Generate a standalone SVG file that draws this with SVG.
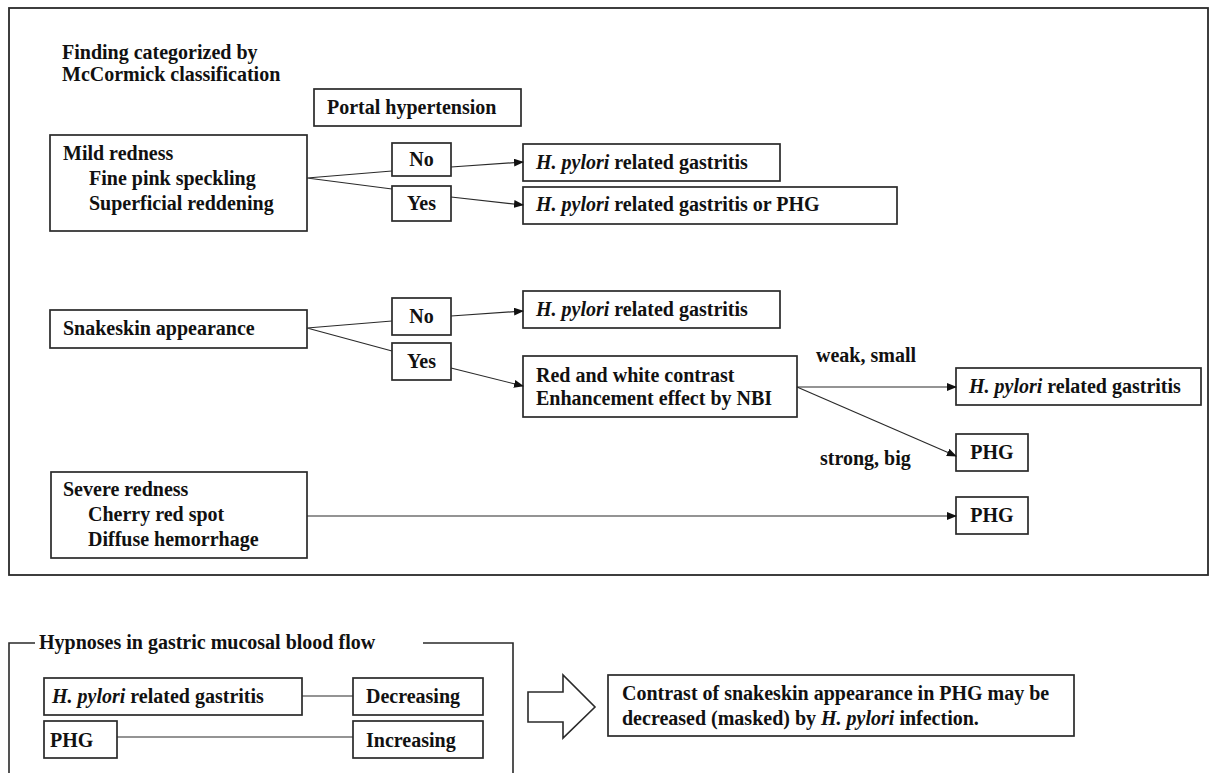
<svg xmlns="http://www.w3.org/2000/svg" width="1211" height="773" viewBox="0 0 1211 773">
<style>
text{font-family:"Liberation Serif","Times New Roman",serif;font-weight:bold;font-size:20px;fill:#111}
.b{fill:#fff;stroke:#2a2a2a;stroke-width:1.7}
.c{stroke:#2a2a2a;stroke-width:1.2;fill:none}
.i{font-style:italic}
</style>
<defs>
<marker id="ah" markerWidth="10" markerHeight="8" refX="9" refY="4" orient="auto" markerUnits="userSpaceOnUse">
<path d="M0,0 L10,4 L0,8 z" fill="#111"/>
</marker>
</defs>
<rect width="1211" height="773" fill="#fff"/>
<rect x="9" y="8" width="1199" height="567" fill="none" stroke="#2a2a2a" stroke-width="1.8"/>
<g id="title"><text x="62" y="59">Finding categorized by</text><text x="62" y="81">McCormick classification</text></g>
<g id="portal"><rect class="b" x="314" y="89" width="207" height="37"/><text x="327" y="114">Portal hypertension</text></g>
<g id="mild"><rect class="b" x="50" y="135" width="257" height="96"/><text x="63" y="160">Mild redness</text><text x="89" y="185">Fine pink speckling</text><text x="89" y="210">Superficial reddening</text></g>
<g id="no1"><rect class="b" x="392" y="143" width="59" height="33"/><text x="421.5" y="166" text-anchor="middle">No</text></g>
<g id="yes1"><rect class="b" x="392" y="186" width="59" height="35"/><text x="421.5" y="210" text-anchor="middle">Yes</text></g>
<g id="r1"><rect class="b" x="523" y="144" width="257" height="37"/><text x="536" y="169"><tspan class="i">H. pylori</tspan> related gastritis</text></g>
<g id="r2"><rect class="b" x="523" y="187" width="374" height="37"/><text x="536" y="211"><tspan class="i">H. pylori</tspan> related gastritis or PHG</text></g>
<g id="snake"><rect class="b" x="50" y="310" width="257" height="38"/><text x="63" y="335">Snakeskin appearance</text></g>
<g id="no2"><rect class="b" x="392" y="298" width="59" height="37"/><text x="421.5" y="323" text-anchor="middle">No</text></g>
<g id="yes2"><rect class="b" x="392" y="343" width="59" height="37"/><text x="421.5" y="368" text-anchor="middle">Yes</text></g>
<g id="r3"><rect class="b" x="523" y="291" width="257" height="37"/><text x="536" y="316"><tspan class="i">H. pylori</tspan> related gastritis</text></g>
<g id="red"><rect class="b" x="523" y="356" width="274" height="61"/><text x="536" y="382">Red and white contrast</text><text x="536" y="405">Enhancement effect by NBI</text></g>
<g id="weak"><text x="816" y="362">weak, small</text></g>
<g id="strong"><text x="820" y="465">strong, big</text></g>
<g id="r4"><rect class="b" x="956" y="368" width="245" height="37"/><text x="969" y="393"><tspan class="i">H. pylori</tspan> related gastritis</text></g>
<g id="phg1"><rect class="b" x="956" y="434" width="72" height="37"/><text x="992" y="459" text-anchor="middle">PHG</text></g>
<g id="severe"><rect class="b" x="51" y="472" width="256" height="86"/><text x="63" y="496">Severe redness</text><text x="88" y="521">Cherry red spot</text><text x="88" y="546">Diffuse hemorrhage</text></g>
<g id="phg2"><rect class="b" x="956" y="497" width="72" height="37"/><text x="992" y="522" text-anchor="middle">PHG</text></g>
<g id="connectors">
<path class="c" d="M307,178 L392,171 M307,178 L392,189 M307,328 L392,321 M307,328 L392,351"/>
<path class="c" d="M451,167 L523,162" marker-end="url(#ah)"/>
<path class="c" d="M451,197 L523,205" marker-end="url(#ah)"/>
<path class="c" d="M451,316 L523,311" marker-end="url(#ah)"/>
<path class="c" d="M451,368 L523,386" marker-end="url(#ah)"/>
<path class="c" d="M797,387 L956,387" marker-end="url(#ah)"/>
<path class="c" d="M797,387 L956,456" marker-end="url(#ah)"/>
<path class="c" d="M307,516 L956,516" marker-end="url(#ah)"/>
<path class="c" d="M302,696 L353,696 M117,737 L353,737"/>
</g>
<g id="hyp">
<path d="M9,773 L9,643 L35,643 M423,643 L513,643 L513,773" fill="none" stroke="#2a2a2a" stroke-width="1.6"/>
<text x="39" y="649">Hypnoses in gastric mucosal blood flow</text>
</g>
<g id="hp"><rect class="b" x="44" y="678" width="258" height="37"/><text x="52" y="703"><tspan class="i">H. pylori</tspan> related gastritis</text></g>
<g id="dec"><rect class="b" x="353" y="678" width="130" height="37"/><text x="366" y="703">Decreasing</text></g>
<g id="phg3"><rect class="b" x="44" y="721" width="73" height="37"/><text x="50" y="747">PHG</text></g>
<g id="inc"><rect class="b" x="353" y="721" width="130" height="37"/><text x="366" y="747">Increasing</text></g>
<g id="bigarrow"><path d="M528,692 L563,692 L563,675 L595,707 L563,738 L563,722 L528,722 Z" fill="#fff" stroke="#2a2a2a" stroke-width="1.6"/></g>
<g id="concl"><rect class="b" x="608" y="675" width="466" height="61"/><text x="622" y="700">Contrast of snakeskin appearance in PHG may be</text><text x="622" y="725">decreased (masked) by <tspan class="i">H. pylori</tspan> infection.</text></g>
</svg>
